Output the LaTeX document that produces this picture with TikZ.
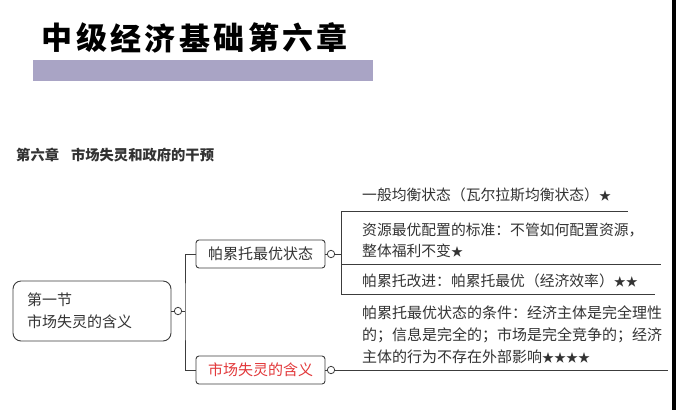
\documentclass[tikz,border=0pt]{standalone}
\usepackage{fontspec}
\setmainfont{Noto Sans CJK SC}
\newcommand\smst[1]{{\fontsize{12}{12}\selectfont #1}}
\begin{document}
\begin{tikzpicture}[x=1pt,y=-1pt,
  txt/.style={text=txtgray,inner sep=0pt,font=\fontsize{14.8}{21}\selectfont,anchor=west,align=left},
  rootbox/.style={draw=linegray,line width=0.9pt,rounded corners=8pt,minimum width=158pt,minimum height=60pt,
     text width=130pt,align=left,inner sep=0pt,text=txtgray,font=\fontsize{15}{22}\selectfont},
  subbox/.style={draw=linegray,line width=0.9pt,rounded corners=3pt,minimum width=129pt,minimum height=28pt,
     inner sep=0pt,font=\fontsize{15}{18}\selectfont},
  knob/.style={circle,draw=linegray,line width=0.8pt,fill=white,minimum size=7.4pt,inner sep=0pt},
  conn/.style={draw=linegray,line width=0.9pt},
  titlech/.style={inner sep=0pt,font=\fontsize{31}{31}\selectfont\bfseries}
]
\definecolor{txtgray}{HTML}{333333}
\definecolor{linegray}{HTML}{3C3C3C}
\definecolor{barpurple}{HTML}{A9A4C5}
\definecolor{redtxt}{HTML}{E2383A}
\useasboundingbox (0,0) rectangle (676,410);
\fill[white] (0,0) rectangle (676,410);
% right black edge
\fill[black] (672,0) rectangle (676,410);
% title
\fill[barpurple] (33,60) rectangle (373,81);
\foreach \c [count=\i from 0] in {中,级,经,济,基,础,第,六,章}
  \node[titlech] (title\i) at ({57.2+34.4*\i},38) {\c};
% heading
\node[inner sep=0pt,anchor=west,text=txtgray,font=\fontsize{14.3}{16}\selectfont\bfseries] (heading) at (16,155) {第六章\hspace{12pt}市场失灵和政府的干预};
% root
\node[rootbox] (root) at (92,311) {第一节\\市场失灵的含义};
\node[knob] (k0) at (178,311) {};
\node[subbox,text=txtgray] (p1) at (260.5,254) {帕累托最优状态};
\node[subbox,text=redtxt] (p2) at (260.5,370) {市场失灵的含义};
\coordinate (j0) at (185,311);
\draw[conn] (root.east) -- (k0.west);
\draw[conn] (k0.east) -- (j0);
\draw[conn] (p1.west) -| (j0) |- (p2.west);
\node[knob] (k1) at (331,254) {};
\node[knob] (k2) at (331,370) {};
\draw[conn] (p1.east) -- (k1.west);
\draw[conn] (p2.east) -- (k2.west);
% branch of p1
\coordinate (v1) at (341,254);
\coordinate (a1) at (341,211);
\coordinate (a2) at (341,264);
\coordinate (a3) at (341,294);
\coordinate (e1) at (628,211);
\coordinate (e2) at (661,264);
\coordinate (e3) at (655,294);
\draw[conn] (k1.east) -- (v1);
\draw[conn] (a1) -- (a3);
\draw[conn] (a1) -- (e1);
\draw[conn] (a2) -- (e2);
\draw[conn] (a3) -- (e3);
\node[txt] (t1) at (362,195) {一般均衡状态（瓦尔拉斯均衡状态）\smst{★}};
\node[txt] (t2) at (362,240.5) {资源最优配置的标准：不管如何配置资源，\\整体福利不变\smst{★}};
\node[txt] (t3) at (362,281) {帕累托改进：帕累托最优（经济效率）\smst{★★}};
% branch of p2
\coordinate (e4) at (668,370);
\draw[conn] (k2.east) -- (e4);
\node[txt,font=\fontsize{15}{22}\selectfont] (t4) at (362,335) {帕累托最优状态的条件：经济主体是完全理性\\的；信息是完全的；市场是完全竞争的；经济\\主体的行为不存在外部影响\smst{★★★★}};
\end{tikzpicture}
\end{document}
